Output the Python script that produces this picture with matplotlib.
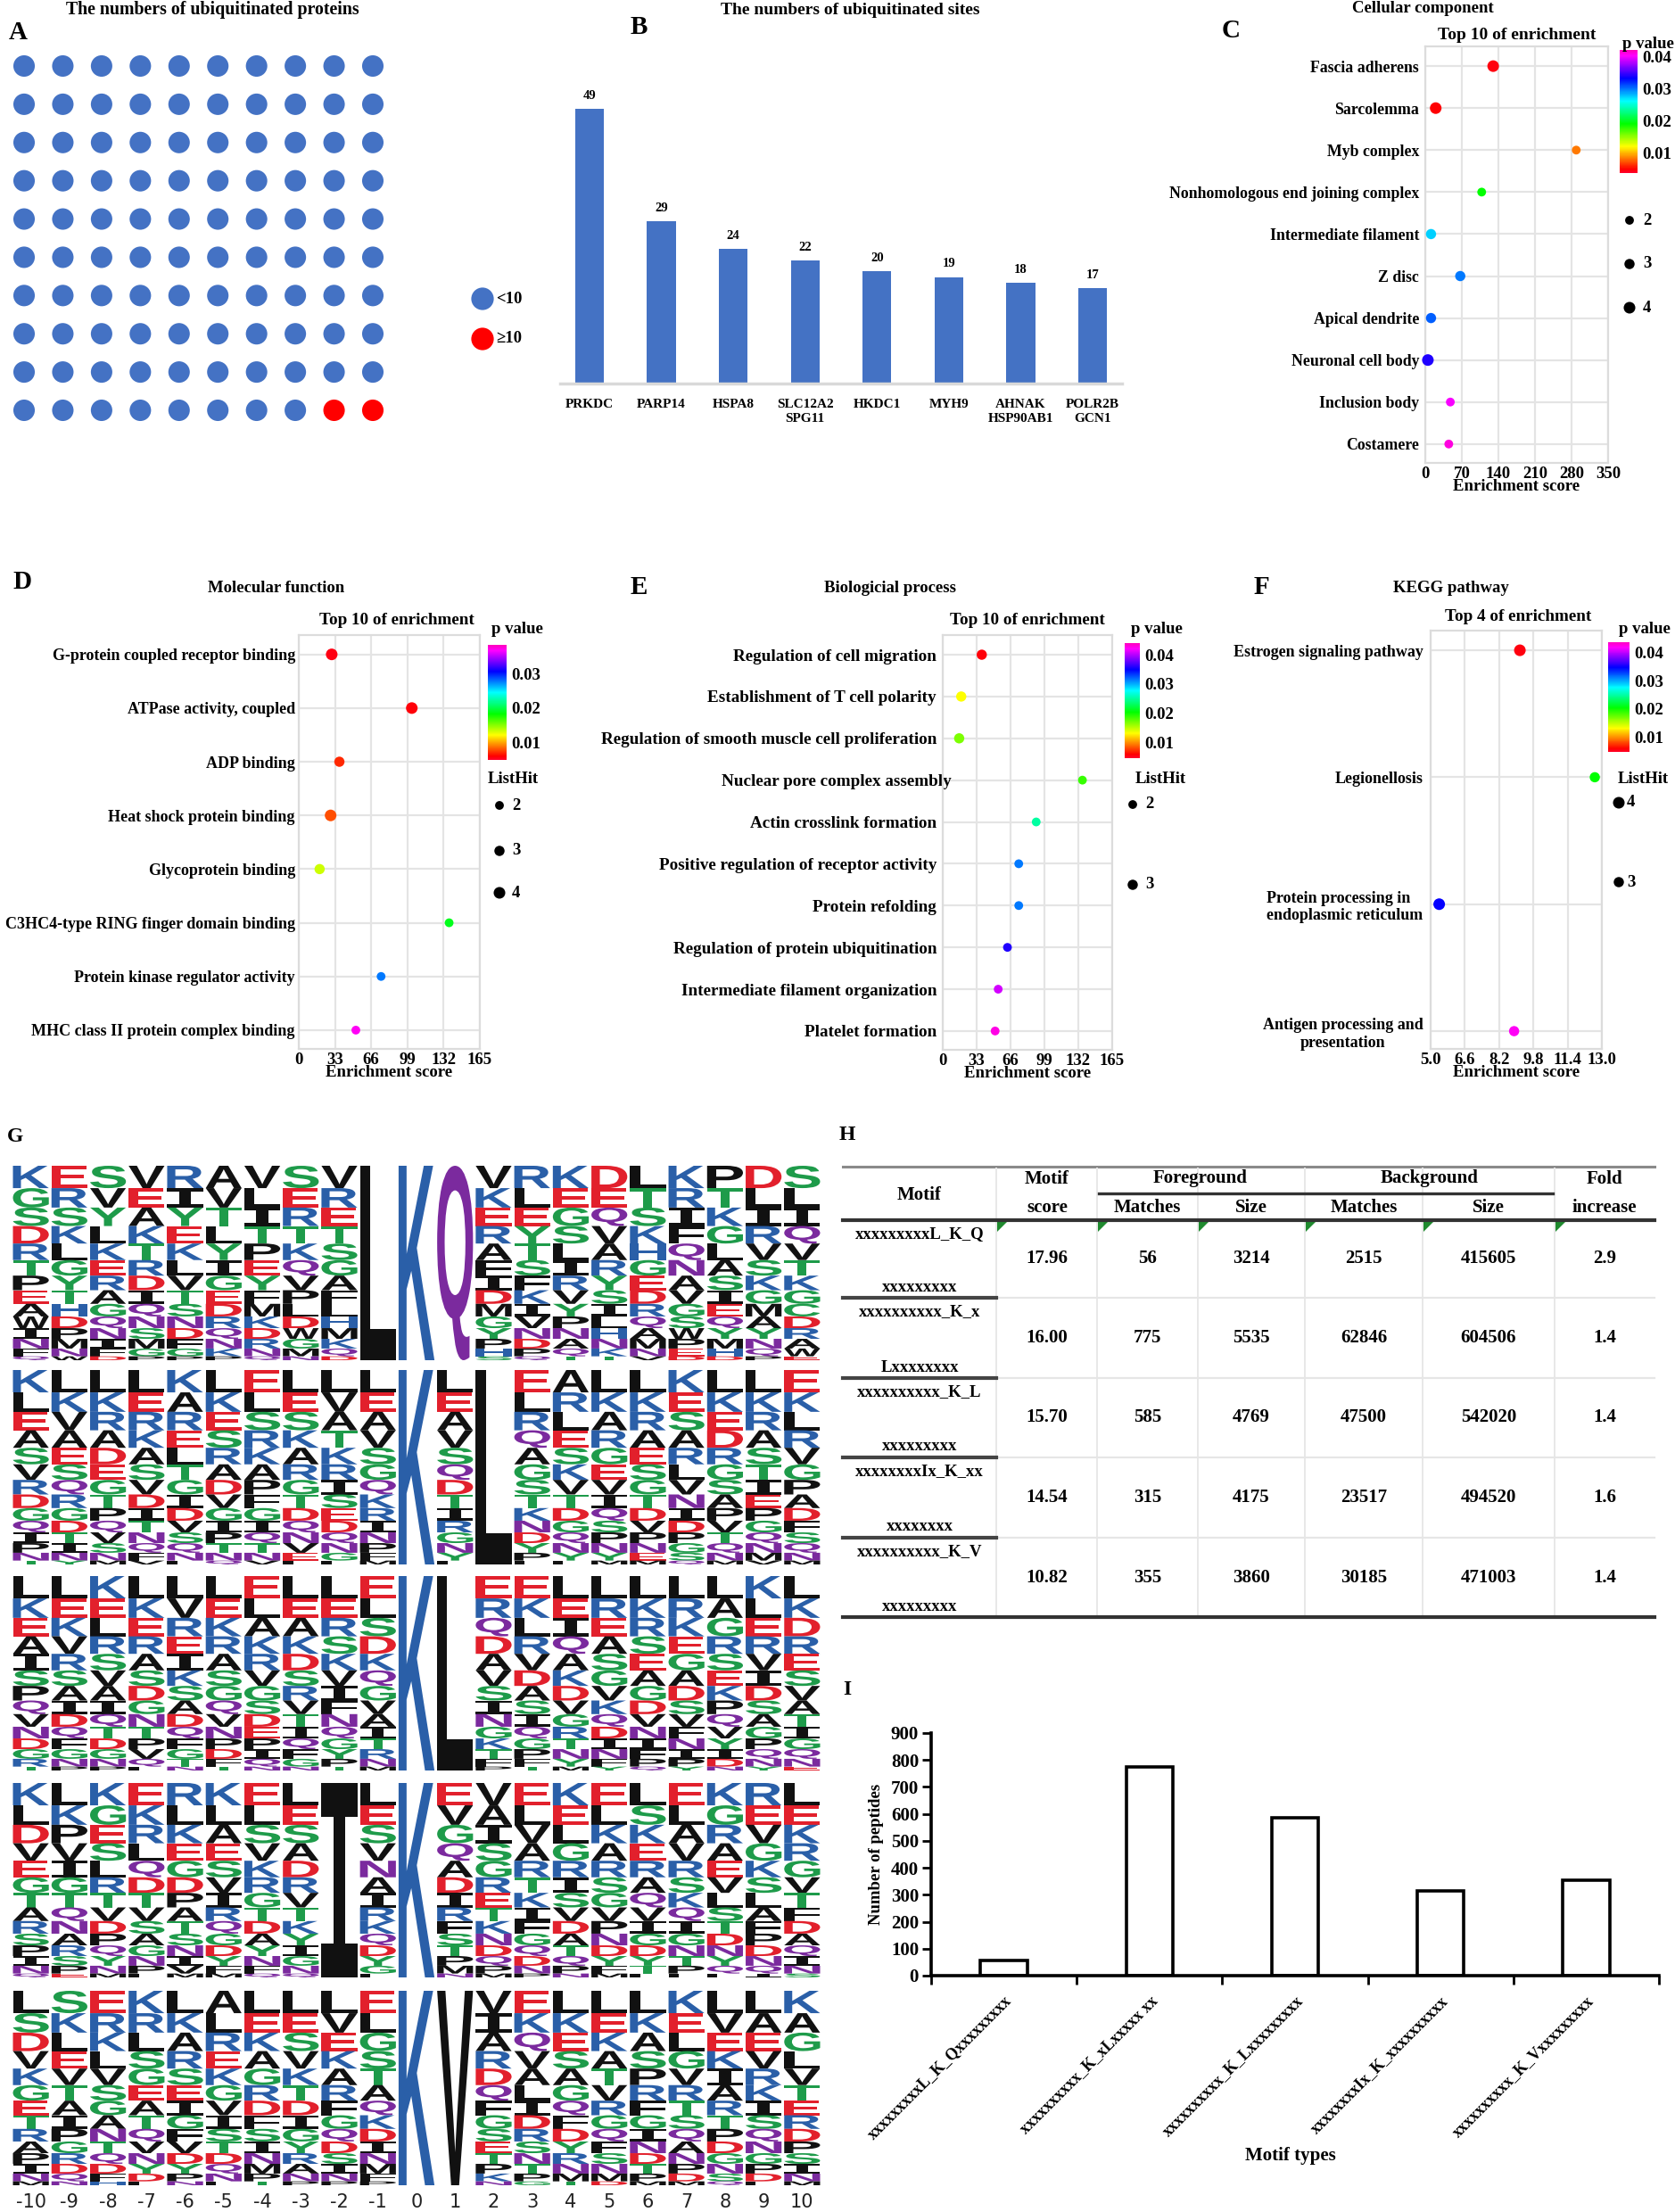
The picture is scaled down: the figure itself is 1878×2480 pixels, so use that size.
import numpy as np
import matplotlib
matplotlib.use("Agg")
import matplotlib.pyplot as plt
from matplotlib import cm, colors as mcolors
from matplotlib.textpath import TextPath
from matplotlib.patches import PathPatch
from matplotlib.font_manager import FontProperties
from matplotlib.transforms import Affine2D, ScaledTranslation

W, H = 1878, 2480

# ---------------- data ----------------
N_LT10 = 98
N_GE10 = 2

B_GENES = ["PRKDC", "PARP14", "HSPA8", "SLC12A2\nSPG11", "HKDC1", "MYH9",
           "AHNAK\nHSP90AB1", "POLR2B\nGCN1"]
B_SITES = [49, 29, 24, 22, 20, 19, 18, 17]

C_TERMS = ["Fascia adherens", "Sarcolemma", "Myb complex",
           "Nonhomologous end joining complex", "Intermediate filament", "Z disc",
           "Apical dendrite", "Neuronal cell body", "Inclusion body", "Costamere"]
C_SCORE = [130, 20, 289, 108, 11, 67, 11, 5, 48, 45]
C_PVAL = [0.0045, 0.0047, 0.0082, 0.019, 0.0274, 0.0297, 0.0305, 0.034, 0.040, 0.041]
C_HITS = [4, 4, 2, 2, 3, 3, 3, 4, 2, 2]

D_TERMS = ["G-protein coupled receptor binding", "ATPase activity, coupled",
           "ADP binding", "Heat shock protein binding", "Glycoprotein binding",
           "C3HC4-type RING finger domain binding", "Protein kinase regulator activity",
           "MHC class II protein complex binding"]
D_SCORE = [30, 103, 37, 29, 19, 137, 75, 52]
D_PVAL = [0.0055, 0.0058, 0.0069, 0.0079, 0.0133, 0.019, 0.0277, 0.037]
D_HITS = [4, 4, 3, 4, 3, 2, 2, 2]

E_TERMS = ["Regulation of cell migration", "Establishment of T cell polarity",
           "Regulation of smooth muscle cell proliferation", "Nuclear pore complex assembly",
           "Actin crosslink formation", "Positive regulation of receptor activity",
           "Protein refolding", "Regulation of protein ubiquitination",
           "Intermediate filament organization", "Platelet formation"]
E_SCORE = [38, 18, 16, 136, 91, 74, 74, 63, 54, 51]
E_PVAL = [0.0055, 0.013, 0.0167, 0.0187, 0.025, 0.0314, 0.0314, 0.0357, 0.0408, 0.0428]
E_HITS = [3, 3, 3, 2, 2, 2, 2, 2, 2, 2]

F_TERMS = ["Estrogen signaling pathway", "Legionellosis",
           "Protein processing in\nendoplasmic reticulum",
           "Antigen processing and\npresentation"]
F_SCORE = [9.17, 12.67, 5.4, 8.9]
F_PVAL = [0.0055, 0.0203, 0.0348, 0.0422]
F_HITS = [4, 3, 4, 3]

POSITIONS = list(range(-10, 11))
LOGO_1 = ["KGSDRTPEAWINFQ", "ERSKLGYTHDPMNW", "SVYLKERAGQNIFD", "VEAKTRDIQNSMGP",
          "RIYEKLVTSNDFGP", "AVTLYIGEDRQNKP", "VLITPEYFMKDRNQ", "SERTKQVPLDWGMN",
          "VRETSGAFLHMKQD", "L", "K", "Q", "VKERAFIDMGYPHS", "RLEYTSFKIVNDPQ",
          "KEGSLIRVYPNAQT", "DEQVARYSILHNKT", "LTSKHGEDRQAMNV", "KRIFQNAVGSWPED",
          "PTKGLASIEQYMHD", "DLIRVSKGMAYNQP", "SLIQVTKGCDRAWE"]
LOGO_2 = ["KLEASVRDGQIPNT", "LKVAESQRGDTINY", "LKRADEGTPQVSNM", "LERKASVDITNQFV",
          "KARELTGIDVSQNF", "LKESRADVGIPTNQ", "ELSRKAPFGIQTNV", "LESKARGTDQNVEF",
          "LVATKRISEDQNGF", "LEAVSGQKRINPFM", "K", "LEAVSQDTIRGNYF", "L",
          "ELRQAGSTKNDYPF", "ARLESKVTDGQNYF", "LKARGEVIQSPNYM", "LKRAESGTDVPNEM",
          "KESARLVNIDPGSQ", "LKEDRGSAPVTQNM", "LKRASTIEPGQNMV", "EKLRVGPADFSQNM"]
LOGO_3 = ["LKEAISPQVNDGRT", "LEKVRSAIDQFGNP", "KELRSVAIQTDGNP", "LKERASDGNTPVQF",
          "LVREIKSADQFGTN", "LEKRASGQVNPDFT", "ELAKRVGSDEPIQN", "LEAKDSRVTIQFGN",
          "LERSKVIFNQGYPT", "ELSDKQGVAITRNM", "K", "L", "ERQDAVSINGKTFP",
          "EKLRVDASIQGPFT", "LEIQAKDVGRTNYM", "LREASGVKQDINFY", "LKRSEAGDVNIFPQ",
          "LRKEGADSVFNIPY", "LAGRSEKPQVYIDN", "KLERVIDSAGPQNY", "LKDRESVATIGQNE"]
LOGO_4 = ["KLDVEGTARSPINQ", "LKPVIGTQNARSPE", "KGESLRTVDPQYNM", "EKRLQDTVSAGNPF",
          "RLKEGDPATSNIVM", "KLAESVIRQGDYFM", "ELSVKRGTDAYNFQ", "LESADRVTKYIGNQ",
          "I", "LESVNAIRKQDYGF", "K", "EVGQADIRFSTPMN", "VAISGRETKNDQPM",
          "ELVARTKIFGQDNP", "KELGRISVDATQPN", "ELKARSGVPNDYFM", "LSKERAQVIGDYTF",
          "ELAVRSKQIGNTPF", "KGRAEVLSTDNYQF", "REVGKSLAFPDNQI", "LEKRGVTFDAQINS"]
LOGO_5 = ["LSDVKGETRAPINM", "SKLEVTAIPGRDQN", "ERKLVSGANTQDFH", "KRLSGEATQVNYDF",
          "LKARSEIGFVDYPN", "ALREKGVISTDQNF", "LEKAGRDFSINMPT", "LESVKTDIGYRANP",
          "LVEKARFGQDSINP", "ELGSTAQKDINMFP", "K", "V", "VIARDQFGSETPKN",
          "EKQVALIDRSNTPG", "LKESAGQFDYRNMT", "LEKATVRGQFSNMD", "LKASPRFGINDTPM",
          "KELGVRTSQANPDM", "LVEKIARTPDGNSQ", "LAEVRKISQNGPDF", "KAGLVTERDPSINM"]
LOGOS = [LOGO_1, LOGO_2, LOGO_3, LOGO_4, LOGO_5]
# approximate letter heights from top of a stack to the bottom
PROFILE = [0.115, 0.10, 0.095, 0.09, 0.085, 0.08, 0.075, 0.07, 0.065, 0.06,
           0.055, 0.05, 0.04, 0.02]

H_MOTIFS = [("xxxxxxxxxL_K_Q", "xxxxxxxxx"), ("xxxxxxxxxx_K_x", "Lxxxxxxxx"),
            ("xxxxxxxxxx_K_L", "xxxxxxxxx"), ("xxxxxxxxIx_K_xx", "xxxxxxxx"),
            ("xxxxxxxxxx_K_V", "xxxxxxxxx")]
H_SCORE = ["17.96", "16.00", "15.70", "14.54", "10.82"]
H_FG_MATCH = [56, 775, 585, 315, 355]
H_FG_SIZE = [3214, 5535, 4769, 4175, 3860]
H_BG_MATCH = [2515, 62846, 47500, 23517, 30185]
H_BG_SIZE = [415605, 604506, 542020, 494520, 471003]
H_FOLD = ["2.9", "1.4", "1.4", "1.6", "1.4"]

I_LABELS = ["xxxxxxxxxL_K_Qxxxxxxxxx", "xxxxxxxxxx_K_xLxxxxx xx",
            "xxxxxxxxxx_K_Lxxxxxxxxx", "xxxxxxxxIx_K_xxxxxxxxxx",
            "xxxxxxxxxx_K_Vxxxxxxxxx"]
I_COUNTS = [56, 775, 585, 315, 355]

# ---------------- style ----------------
plt.rcParams["font.family"] = ["Liberation Serif", "DejaVu Serif"]
plt.rcParams["font.weight"] = "bold"
plt.rcParams["axes.labelweight"] = "bold"

CMAP = plt.get_cmap("gist_rainbow")
SIZE = {2: 50, 3: 68, 4: 88}
BLUE = "#4472C4"
LETTER_FS = 21

AA_COLOR = {}
for ch in "KRH":
    AA_COLOR[ch] = "#2a5fa8"
for ch in "DE":
    AA_COLOR[ch] = "#e2202c"
for ch in "STGYC":
    AA_COLOR[ch] = "#1e9b4a"
for ch in "QN":
    AA_COLOR[ch] = "#7b2a9e"
for ch in "AVLIPFMW":
    AA_COLOR[ch] = "#111111"

fig = plt.figure(figsize=(W / 100, H / 100), dpi=100)
fig.patch.set_facecolor("white")

ov = fig.add_axes([0, 0, 1, 1])
ov.set_xlim(0, W)
ov.set_ylim(H, 0)
ov.axis("off")
ov.set_zorder(10)


def px_axes(l, t, r, b):
    return fig.add_axes([l / W, 1 - b / H, (r - l) / W, (b - t) / H])


def label(x, y, s, fs=13.5, **kw):
    kw.setdefault("ha", "center")
    kw.setdefault("va", "center")
    ov.text(x, y, s, fontsize=fs, fontweight="bold", **kw)


# ---------------- A ----------------
axA = px_axes(27, 74, 418, 460)
idx = np.arange(N_LT10 + N_GE10)
dot_colors = [BLUE] * N_LT10 + ["#ff0000"] * N_GE10
axA.scatter(idx % 10, idx // 10, s=300, c=dot_colors, edgecolors="none", clip_on=False)
axA.set_xlim(0, 9)
axA.set_ylim(9, 0)
axA.axis("off")
label(20, 36, "A", fs=LETTER_FS)
label(238, 11, "The numbers of ubiquitinated proteins", fs=14.3)
ov.scatter([541], [335], s=330, c=BLUE, edgecolors="none")
ov.scatter([541], [380], s=330, c="#ff0000", edgecolors="none")
label(556, 335, "<10", fs=13.5, ha="left")
label(556, 380, "\u226510", fs=13.5, ha="left")

# ---------------- B ----------------
axB = px_axes(628, 100, 1258, 430)
xb = np.arange(len(B_SITES))
axB.bar(xb, B_SITES, width=0.4, color=BLUE)
for xi, v in zip(xb, B_SITES):
    axB.text(xi, v + 1.3, str(v), ha="center", va="bottom", fontsize=10.5)
axB.set_xlim(-0.41, 7.41)
axB.set_ylim(0, 52.5)
axB.set_xticks(xb)
axB.set_xticklabels(B_GENES, fontsize=11, linespacing=1.3)
axB.set_yticks([])
for s in ["top", "right", "left"]:
    axB.spines[s].set_visible(False)
axB.spines["bottom"].set_color("#d9d9d9")
axB.spines["bottom"].set_linewidth(2.5)
axB.tick_params(axis="x", length=0, pad=12)
label(716, 30, "B", fs=LETTER_FS)
label(953, 11, "The numbers of ubiquitinated sites", fs=14)


# ---------------- enrichment bubble panels ----------------
def enrich_panel(box, terms, scores, pvals, hits, xt, ylim, cbox, vmin, vmax, cticks,
                 ypad, lfs, fmt="{:g}"):
    ax = px_axes(*box)
    norm = mcolors.Normalize(vmin, vmax)
    y = np.arange(len(terms))
    ax.scatter(scores, y, s=[SIZE[h] for h in hits], c=pvals, cmap=CMAP, norm=norm,
               edgecolors="none", zorder=3, clip_on=False)
    ax.set_yticks(y)
    ax.set_yticklabels(terms, fontsize=lfs)
    ax.set_ylim(*ylim)
    ax.set_xlim(xt[0], xt[-1])
    ax.set_xticks(xt)
    ax.set_xticklabels([fmt.format(t) for t in xt], fontsize=13.5)
    ax.grid(True, color="#e4e4e4", lw=1.6)
    ax.set_axisbelow(True)
    for sp in ax.spines.values():
        sp.set_color("#dcdcdc")
        sp.set_linewidth(1.6)
    ax.tick_params(axis="y", length=0, pad=ypad)
    ax.tick_params(axis="x", length=0, pad=3)
    ax.set_xlabel("Enrichment score", fontsize=13.5, labelpad=-2)
    cax = px_axes(*cbox)
    cb = fig.colorbar(cm.ScalarMappable(norm=norm, cmap=CMAP), cax=cax, ticks=cticks)
    cb.outline.set_visible(False)
    cb.ax.tick_params(length=0, labelsize=13.5, pad=4)
    cb.ax.set_yticklabels(["{:.2f}".format(t) for t in cticks])
    return ax


enrich_panel((1598, 52, 1803, 519), C_TERMS, C_SCORE, C_PVAL, C_HITS,
             [0, 70, 140, 210, 280, 350], (9.45, -0.47),
             (1816, 56, 1836, 194), 0.0036, 0.042, [0.01, 0.02, 0.03, 0.04], 5, 12.8)
label(1380, 34, "C", fs=LETTER_FS)
label(1595, 10, "Cellular component", fs=13.5)
label(1701, 39, "Top 10 of enrichment", fs=14)
label(1848, 49, "p value", fs=13.5)
for yy, k in zip([247, 296, 345], [2, 3, 4]):
    ov.scatter([1827], [yy], s=SIZE[k], c="black", edgecolors="none")
    label(1842, yy, str(k), ha="left")

enrich_panel((335, 712, 538, 1176), D_TERMS, D_SCORE, D_PVAL, D_HITS,
             [0, 33, 66, 99, 132, 165], (7.35, -0.36),
             (547, 723, 568, 852), 0.0049, 0.0384, [0.01, 0.02, 0.03], 3, 13)
label(25, 652, "D", fs=LETTER_FS)
label(310, 659, "Molecular function", fs=13.5)
label(445, 695, "Top 10 of enrichment", fs=13.8)
label(580, 706, "p value", fs=13.5)
label(575, 873, "ListHit", fs=13.5)
for yy, k in zip([903, 954, 1001], [2, 3, 4]):
    ov.scatter([560], [yy], s=SIZE[k], c="black", edgecolors="none")
    label(574, yy, str(k), ha="left")

axE = enrich_panel((1057, 712, 1247, 1177), E_TERMS, E_SCORE, E_PVAL, E_HITS,
                   [0, 33, 66, 99, 132, 165], (9.45, -0.47),
                   (1261, 721, 1278, 850), 0.0045, 0.044, [0.01, 0.02, 0.03, 0.04], 5, 13.8)
# this one label runs into the plot area in the original
tl = axE.get_yticklabels()[3]
tl.set_transform(tl.get_transform() + ScaledTranslation(12 / 72, 0, fig.dpi_scale_trans))
label(716, 659, "E", fs=LETTER_FS)
label(998, 659, "Biologicial process", fs=13.5)
label(1152, 695, "Top 10 of enrichment", fs=13.8)
label(1297, 706, "p value", fs=13.5)
label(1301, 873, "ListHit", fs=13.5)
for yy, k in zip([902, 992], [2, 3]):
    ov.scatter([1270], [yy], s=SIZE[k], c="black", edgecolors="none")
    label(1284, yy, str(k), ha="left")

axF = enrich_panel((1604, 707, 1796, 1176), F_TERMS, F_SCORE, F_PVAL, F_HITS,
                   [5.0, 6.6, 8.2, 9.8, 11.4, 13.0], (3.14, -0.155),
                   (1803, 720, 1827, 843), 0.0046, 0.0438, [0.01, 0.02, 0.03, 0.04], 6,
                   13, fmt="{:.1f}")
for t, al in zip(axF.get_yticklabels(), ["right", "right", "left", "center"]):
    t.set_multialignment(al)
label(1414, 659, "F", fs=LETTER_FS)
label(1627, 659, "KEGG pathway", fs=13.5)
label(1702, 692, "Top 4 of enrichment", fs=13.8)
label(1844, 706, "p value", fs=13.5)
label(1842, 873, "ListHit", fs=13.5)
for yy, k in zip([900, 989], [4, 3]):
    ov.scatter([1815], [yy], s=SIZE[k], c="black", edgecolors="none")
    label(1824, yy, str(k), ha="left")

# ---------------- G: sequence logos ----------------
LOGO_FONT = FontProperties(family="Liberation Sans", weight="bold")
MONO_FONT = FontProperties(family="DejaVu Sans Mono", weight="bold")
_glyphs = {}


def glyph(ch):
    if ch not in _glyphs:
        tp = TextPath((0, 0), ch, size=1, prop=MONO_FONT if ch == "I" else LOGO_FONT)
        _glyphs[ch] = (tp, tp.get_extents())
    return _glyphs[ch]


def draw_letter(ax, ch, x, y0, h, w=0.93):
    tp, bb = glyph(ch)
    tr = (Affine2D().translate(-bb.x0, -bb.y0)
          .scale(w / bb.width, h / bb.height).translate(x - w / 2, y0))
    ax.add_patch(PathPatch(tr.transform_path(tp), fc=AA_COLOR[ch], ec="none", lw=0))


ROW_TOPS = [1307, 1536, 1767, 1999, 2232]
for top, logo in zip(ROW_TOPS, LOGOS):
    ax = px_axes(13, top, 921, top + 218)
    ax.set_xlim(-10.5, 10.5)
    ax.set_ylim(0, 1)
    ax.axis("off")
    for pos, col in zip(POSITIONS, logo):
        if len(col) == 1:
            draw_letter(ax, col, pos, 0.0, 1.0)
            continue
        ytop = 1.0
        for ch, h in zip(col, PROFILE):
            ytop -= h
            draw_letter(ax, ch, pos, ytop, h)
    last = ax
for pos in POSITIONS:
    last.text(pos, -0.085, str(pos), ha="center", va="center", fontsize=15,
              fontweight="normal", family="Liberation Sans Narrow", color="#222222")
label(17, 1274, "G", fs=17)

# ---------------- H: table ----------------
COLX = [945, 1117, 1230, 1343, 1463, 1595, 1743, 1855]
ROWY = [1368, 1455, 1545, 1634, 1724, 1813]
label(950, 1272, "H", fs=17)
ov.plot([945, 1855], [1308, 1308], color="#8a8a8a", lw=2.2)
for x in COLX[1:-1]:
    ov.plot([x, x], [1310, 1811], color="#e8e8e8", lw=1.4)
ov.plot([945, 1855], [1368, 1368], color="#333333", lw=3)
for y in ROWY[1:-1]:
    ov.plot([1117, 1855], [y, y], color="#e6e6e6", lw=1.6)
    ov.plot([945, 1117], [y, y], color="#444444", lw=3)
ov.plot([945, 1855], [1813, 1813], color="#333333", lw=3)
ov.plot([1232, 1741], [1338, 1338], color="#333333", lw=2.4)
for x in COLX[1:-1]:
    ov.fill([x + 1, x + 12, x + 1], [1370, 1370, 1381], color="#1f8a2e", lw=0)

TFS = 15
label(1031, 1340, "Motif", fs=TFS)
label(1174, 1322, "Motif", fs=TFS)
label(1174, 1354, "score", fs=TFS)
label(1346, 1321, "Foreground", fs=TFS)
label(1603, 1321, "Background", fs=TFS)
label(1286, 1354, "Matches", fs=TFS)
label(1403, 1354, "Size", fs=TFS)
label(1529, 1354, "Matches", fs=TFS)
label(1669, 1354, "Size", fs=TFS)
label(1799, 1322, "Fold", fs=TFS)
label(1799, 1354, "increase", fs=TFS)
for i in range(len(H_MOTIFS)):
    y0, y1 = ROWY[i], ROWY[i + 1]
    yc = (y0 + y1) / 2
    label(1031, y0 + 16, H_MOTIFS[i][0], fs=13.5)
    label(1031, y1 - 12, H_MOTIFS[i][1], fs=13.5)
    vals = [H_SCORE[i], H_FG_MATCH[i], H_FG_SIZE[i], H_BG_MATCH[i], H_BG_SIZE[i], H_FOLD[i]]
    for j, v in enumerate(vals):
        label((COLX[j + 1] + COLX[j + 2]) / 2, yc, str(v), fs=TFS)

# ---------------- I: bar chart ----------------
axI = px_axes(1044, 1943, 1860, 2215)
xi = np.arange(len(I_COUNTS))
axI.bar(xi, I_COUNTS, width=0.32, facecolor="white", edgecolor="black", linewidth=2.6)
axI.set_xlim(-0.5, 4.5)
axI.set_ylim(0, 900)
axI.set_yticks(np.arange(0, 901, 100))
axI.tick_params(axis="y", labelsize=15, width=2, length=7, direction="out", pad=3)
axI.set_xticks(xi)
axI.set_xticklabels(I_LABELS, rotation=45, ha="right", va="top",
                    rotation_mode="anchor", fontsize=13)
axI.tick_params(axis="x", which="major", length=0, pad=14)
axI.set_xticks(np.arange(-0.5, 4.6, 1), minor=True)
axI.tick_params(axis="x", which="minor", length=7, width=2, direction="out")
for s in ["top", "right"]:
    axI.spines[s].set_visible(False)
for s in ["left", "bottom"]:
    axI.spines[s].set_linewidth(2.6)
axI.set_ylabel("Number of peptides", fontsize=13.5, labelpad=6)
label(950, 1894, "I", fs=17)
label(1447, 2417, "Motif types", fs=15)

fig.savefig("out.png", dpi=100, facecolor="white")
